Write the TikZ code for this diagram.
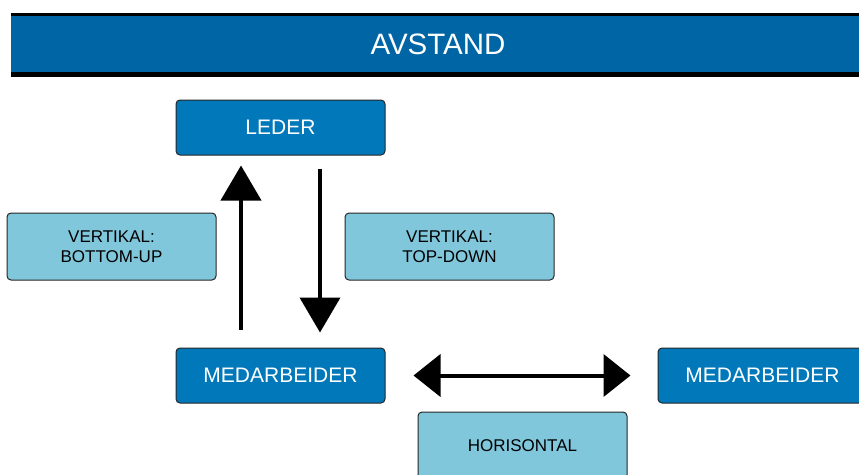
\documentclass[tikz,border=0pt]{standalone}
\usepackage{fontspec}
\setmainfont{Liberation Sans}
\usetikzlibrary{arrows.meta}
\definecolor{headblue}{RGB}{0,101,164}
\definecolor{darkbox}{RGB}{0,120,186}
\definecolor{lightbox}{RGB}{128,199,220}
\begin{document}
\begin{tikzpicture}[x=1pt,y=-1pt,
  rolebox/.style={draw=black!85, line width=1pt, fill=darkbox, rounded corners=4pt,
    minimum width=209pt, minimum height=55pt, inner sep=0pt,
    text=white, font=\fontsize{21}{25}\selectfont},
  labelbox/.style={draw=black!85, line width=1pt, fill=lightbox, rounded corners=4pt,
    minimum width=209pt, minimum height=67pt, inner sep=0pt, align=center,
    font=\fontsize{17}{20}\selectfont},
  bigarrow/.style={line width=4pt, -{Triangle[width=40pt,length=35pt]}},
  flatarrow/.style={line width=4pt, {Triangle[width=42pt,length=27pt]}-{Triangle[width=42pt,length=27pt]}}]
\useasboundingbox (0,0) rectangle (859,474);
\clip (0,0) rectangle (859,474);
% header bar
\fill (11,12.7) rectangle (859,76.7);
\fill[headblue] (11,16) rectangle (859,71.7);
\node[text=white, font=\fontsize{29.5}{35}\selectfont] (title) at (438,44.5) {AVSTAND};
% boxes
\node[rolebox] (leder) at (280.5,127.5) {LEDER};
\node[rolebox] (medA) at (280.5,375.5) {MEDARBEIDER};
\node[rolebox] (medB) at (762.5,375.5) {MEDARBEIDER};
\node[labelbox] (bottomup) at (111.5,246.5) {VERTIKAL:\\BOTTOM-UP};
\node[labelbox] (topdown) at (449.5,246.5) {VERTIKAL:\\TOP-DOWN};
\node[labelbox] (horis) at (522.5,445.5) {HORISONTAL};
% arrows
\draw[bigarrow, shorten <=18pt, shorten >=10pt] ([xshift=-39.5pt]medA.north) -- ([xshift=-39.5pt]leder.south);
\draw[bigarrow, shorten <=13pt, shorten >=15pt] ([xshift=39.5pt]leder.south) -- ([xshift=39.5pt]medA.north);
\draw[flatarrow, shorten <=28pt, shorten >=27pt] (medA.east) -- (medB.west);
\end{tikzpicture}
\end{document}
